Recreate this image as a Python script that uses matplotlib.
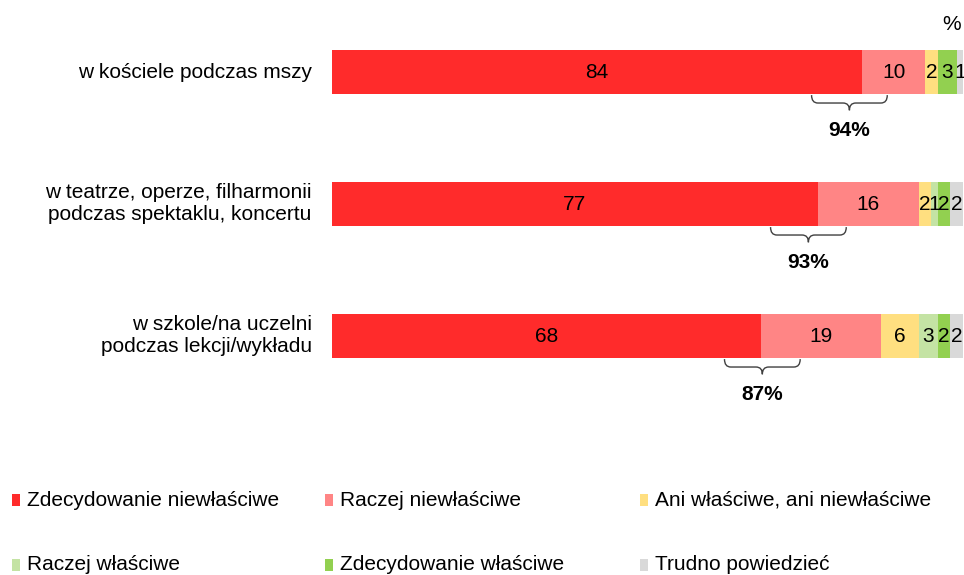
import matplotlib.pyplot as plt
from matplotlib.patches import Rectangle
from matplotlib.path import Path
from matplotlib.patches import PathPatch
import numpy as np

plt.rcParams['font.family'] = ['Liberation Sans', 'DejaVu Sans']

# Data
categories = [
    "w kościele podczas mszy",
    "w teatrze, operze, filharmonii\npodczas spektaklu, koncertu",
    "w szkole/na uczelni\npodczas lekcji/wykładu",
]
series_names = [
    "Zdecydowanie niewłaściwe",
    "Raczej niewłaściwe",
    "Ani właściwe, ani niewłaściwe",
    "Raczej właściwe",
    "Zdecydowanie właściwe",
    "Trudno powiedzieć",
]
zdec_niewl = [84, 77, 68]
raczej_niewl = [10, 16, 19]
ani = [2, 2, 6]
raczej_wl = [0, 1, 3]
zdec_wl = [3, 2, 2]
trudno = [1, 2, 2]
totals_label = ["94%", "93%", "87%"]

colors = ['#FF2B2B', '#FF8585', '#FFDF80', '#C4E3A4', '#92D050', '#D9D9D9']

# Layout
brace_center = [82.0, 75.5, 68.2]
brace_half = 6.0
fs = 15

fig = plt.figure(figsize=(9.64, 5.75), dpi=100)
ax = fig.add_axes([332 / 964, 1 - 468 / 575, 631 / 964, 462 / 575])

series = [zdec_niewl, raczej_niewl, ani, raczej_wl, zdec_wl, trudno]
y = np.arange(len(categories))
left = np.zeros(len(categories))
bar_h = 44 / 132
for vals, col in zip(series, colors):
    vals = np.array(vals, dtype=float)
    ax.barh(y, vals, left=left, height=bar_h, color=col, edgecolor='none')
    for i, v in enumerate(vals):
        if v > 0:
            ax.text(left[i] + v / 2, y[i], f"{int(v)}", ha='center', va='center',
                    fontsize=fs, color='black')
    left += vals

# Braces and totals
for i, c in enumerate(brace_center):
    y0 = y[i] + 0.175   # top of brace ends
    y1 = y[i] + 0.235   # horizontal line
    y2 = y[i] + 0.29    # middle tip
    x0, x1 = c - brace_half, c + brace_half
    r = 1.0
    verts = [
        (x0, y0), (x0, y1), (x0 + r, y1),
        (c - r, y1), (c, y1), (c, y2),
        (c, y1), (c + r, y1),
        (x1 - r, y1), (x1, y1), (x1, y0),
    ]
    codes = [Path.MOVETO, Path.CURVE3, Path.CURVE3,
             Path.LINETO, Path.CURVE3, Path.CURVE3,
             Path.CURVE3, Path.CURVE3,
             Path.LINETO, Path.CURVE3, Path.CURVE3]
    ax.add_patch(PathPatch(Path(verts, codes), facecolor='none',
                           edgecolor='#404040', lw=1.0))
    ax.text(c, y[i] + 0.44, totals_label[i], ha='center', va='center',
            fontsize=fs, fontweight='bold')

ax.set_xlim(0, 100)
ax.set_ylim(3.0, -0.5)
ax.axis('off')

# Category labels
for i, cat in enumerate(categories):
    ax.text(-3.2, y[i], cat, ha='right', va='center', fontsize=fs,
            linespacing=1.2)

fig.text(952 / 964, 1 - 25 / 575, "%", ha='center', va='center', fontsize=fs)

# Legend
col_x = [12, 325, 640]
row_y = [500, 565]
for k, (name, col) in enumerate(zip(series_names, colors)):
    cx = col_x[k % 3]
    cy = row_y[k // 3]
    fig.patches.append(Rectangle((cx / 964, 1 - (cy + 6) / 575), 8 / 964, 12 / 575,
                                 transform=fig.transFigure, facecolor=col,
                                 edgecolor='none'))
    fig.text((cx + 15) / 964, 1 - cy / 575, name, ha='left', va='center',
             fontsize=fs)

fig.savefig('out.png', dpi=100)
